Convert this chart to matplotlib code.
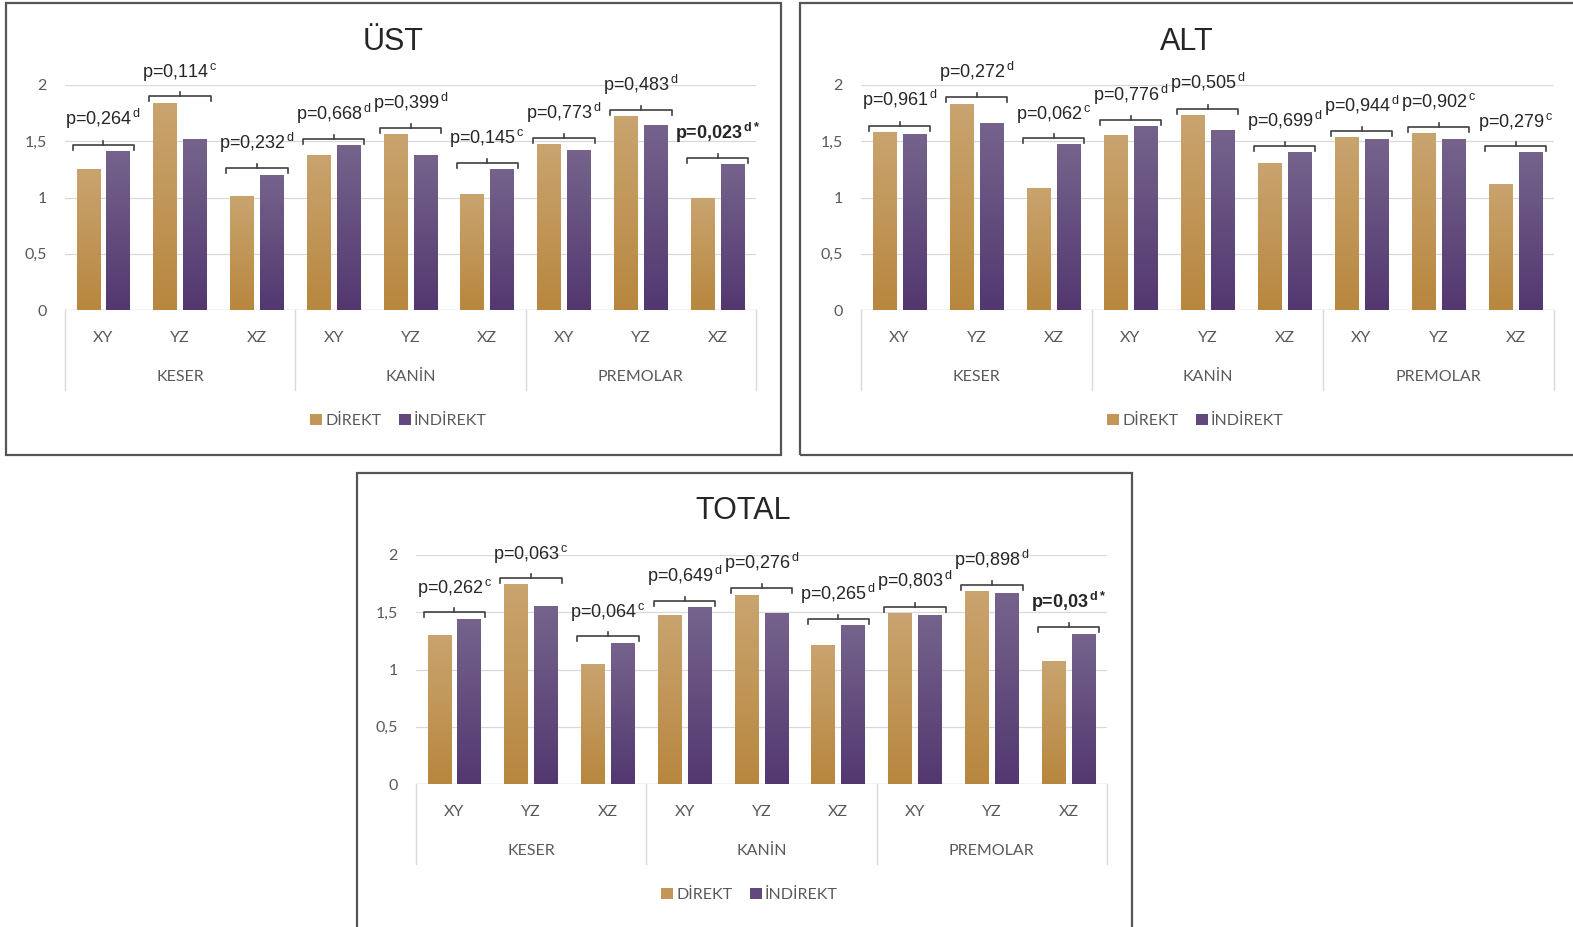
"""Three grouped bar panels (ÜST / ALT / TOTAL), direct vs indirect, with p-value brackets."""
import matplotlib
matplotlib.use("Agg")  # noqa: E402
import matplotlib.pyplot as plt
import numpy as np
from matplotlib.colors import LinearSegmentedColormap
from matplotlib.lines import Line2D
from matplotlib.patches import Patch, Rectangle

plt.rcParams["mathtext.fontset"] = "custom"
plt.rcParams["mathtext.rm"] = "Liberation Sans"
plt.rcParams["mathtext.bf"] = "Liberation Sans:bold"

groups = ["KESER", "KANİN", "PREMOLAR"]
planes = ["XY", "YZ", "XZ"]
series = ["DİREKT", "İNDİREKT"]
yticks = [0, 0.5, 1, 1.5, 2]
ytick_labels = ["0", "0,5", "1", "1,5", "2"]

ust_direkt = [1.25, 1.84, 1.01, 1.37, 1.56, 1.03, 1.47, 1.72, 0.99]
ust_indirekt = [1.41, 1.52, 1.20, 1.46, 1.37, 1.25, 1.42, 1.64, 1.29]
ust_p = ["0,264", "0,114", "0,232", "0,668", "0,399", "0,145", "0,773", "0,483", "0,023"]
ust_sup = ["d", "c", "d", "d", "d", "c", "d", "d", "d*"]

alt_direkt = [1.58, 1.83, 1.08, 1.55, 1.73, 1.30, 1.53, 1.57, 1.12]
alt_indirekt = [1.56, 1.66, 1.47, 1.63, 1.60, 1.40, 1.52, 1.52, 1.40]
alt_p = ["0,961", "0,272", "0,062", "0,776", "0,505", "0,699", "0,944", "0,902", "0,279"]
alt_sup = ["d", "d", "c", "d", "d", "d", "d", "c", "c"]

total_direkt = [1.30, 1.74, 1.04, 1.47, 1.65, 1.21, 1.49, 1.68, 1.07]
total_indirekt = [1.44, 1.55, 1.23, 1.54, 1.49, 1.38, 1.47, 1.66, 1.31]
total_p = ["0,262", "0,063", "0,064", "0,649", "0,276", "0,265", "0,803", "0,898", "0,03"]
total_sup = ["c", "c", "c", "d", "d", "d", "d", "d", "d*"]

W, H = 1573, 927
GOLD = LinearSegmentedColormap.from_list("gold", ["#b8873f", "#c9a46f"])
PURPLE = LinearSegmentedColormap.from_list("purple", ["#533870", "#75638c"])
SOLID = ["#c29656", "#62487c"]
TXT = "#595959"
CAT_FONT = ["Lato", "DejaVu Sans"]
P_FONT = ["Liberation Sans", "DejaVu Sans"]

fig = plt.figure(figsize=(W / 100, H / 100), dpi=100)


def box(x0, y0, x1, y1):
    fig.patches.append(Rectangle((x0 / W, 1 - y1 / H), (x1 - x0) / W, (y1 - y0) / H,
                                 transform=fig.transFigure, fill=False,
                                 edgecolor="#555555", linewidth=1.6))


def panel(title, direkt, indirekt, pvals, sups, left, right, y0, y2, title_xy):
    ax = fig.add_axes([left / W, 1 - y0 / H, (right - left) / W, (y0 - y2) / H])
    hax, wax = y0 - y2, right - left
    n = len(direkt)
    x = np.arange(n)
    bw, off = 0.31, 0.195
    grad = np.linspace(1, 0, 64).reshape(-1, 1)
    for vals, dx, cmap in ((direkt, -off, GOLD), (indirekt, off, PURPLE)):
        for xi, v in zip(x, vals):
            ax.imshow(grad, cmap=cmap, extent=[xi + dx - bw / 2, xi + dx + bw / 2, 0, v],
                      aspect="auto", zorder=2, interpolation="bicubic")
    ax.set_xlim(-0.5, n - 0.5)
    ax.set_ylim(0, 2)
    for s in ax.spines.values():
        s.set_visible(False)
    ax.set_yticks(yticks)
    ax.set_yticklabels(ytick_labels, fontsize=11.5, color=TXT, family=CAT_FONT)
    ax.tick_params(axis="y", length=0, pad=13)
    ax.set_xticks([])
    ax.grid(axis="y", color="#d9d9d9", linewidth=0.9, zorder=0)
    ax.set_axisbelow(True)
    ax.axhline(0, color="#d9d9d9", linewidth=1.0, zorder=1)

    # hierarchical category axis
    tr = ax.get_xaxis_transform()
    for sep in np.arange(-0.5, n, 3):
        ax.add_line(Line2D([sep, sep], [0, -80 / hax], transform=tr, color="#d9d9d9",
                           linewidth=1.0, clip_on=False))
    for i in range(n):
        ax.text(x[i], -28 / hax, planes[i % 3], transform=tr, ha="center", va="center",
                fontsize=11.5, color=TXT, family=CAT_FONT)
    for g, name in enumerate(groups):
        ax.text(3 * g + 1, -67 / hax, name, transform=tr, ha="center", va="center",
                fontsize=11.5, color=TXT, family=CAT_FONT)

    # p-value brackets
    for i in range(n):
        top = max(direkt[i], indirekt[i]) + 0.06
        xl, xr = x[i] - 0.40, x[i] + 0.40
        ax.plot([xl, xl, xr, xr], [top - 0.045, top, top, top - 0.045], color="#404040",
                linewidth=1.2, clip_on=False, zorder=3)
        ax.plot([x[i], x[i]], [top, top + 0.035], color="#404040", linewidth=1.2,
                clip_on=False, zorder=3)
        bold = sups[i].endswith("*")
        if bold:
            label = f"p={pvals[i]}" + r"$^{\,\mathbf{" + sups[i] + "}}$"
        else:
            label = f"p={pvals[i]}" + r"$^{\,\mathrm{" + sups[i] + "}}$"
        ax.annotate(label, xy=(x[i], top), xytext=(0, 9.5), textcoords="offset points",
                    ha="center", va="bottom", fontsize=13, color="#262626",
                    family=P_FONT, weight="bold" if bold else "normal",
                    annotation_clip=False)

    handles = [Patch(facecolor=c, edgecolor="none") for c in SOLID]
    ax.legend(handles, series, loc="center", bbox_to_anchor=(0.5 - 12 / wax, -111 / hax),
              ncol=2, frameon=False, handlelength=0.75, handleheight=0.75,
              handletextpad=0.2, columnspacing=1.1,
              prop={"family": CAT_FONT, "size": 11.5}, labelcolor=TXT)

    fig.text(title_xy[0] / W, 1 - title_xy[1] / H, title, ha="center", va="center",
             fontsize=22, color="#262626", family=P_FONT)
    return ax


box(6, 3, 781, 455)
box(800, 3, 1590, 455)
box(357, 473, 1132, 960)

panel("ÜST", ust_direkt, ust_indirekt, ust_p, ust_sup, 65, 756, 310, 85, (393, 42))
panel("ALT", alt_direkt, alt_indirekt, alt_p, alt_sup, 861, 1554, 310, 85, (1187, 42))
panel("TOTAL", total_direkt, total_indirekt, total_p, total_sup, 416, 1107, 784, 555, (743, 511))

fig.savefig("out.png", dpi=100)
plt.close(fig)
